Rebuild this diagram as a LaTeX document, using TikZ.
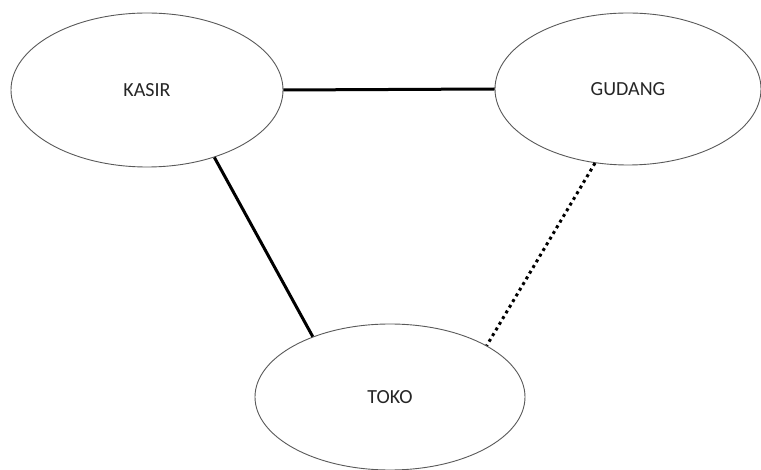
\documentclass[tikz,border=0pt]{standalone}
\usepackage{fontspec}
\setmainfont{Carlito}
\usetikzlibrary{shapes.geometric}
\tikzset{
  entity/.style={ellipse, draw=black!65, line width=0.9pt, fill=white,
    inner sep=0pt, font=\fontsize{20}{24}\selectfont, text=black!85},
  link/.style={line width=3pt, black},
  weaklink/.style={line width=3pt, black, dash pattern=on 3pt off 3.6pt}
}
\begin{document}
\begin{tikzpicture}[x=1pt, y=-1pt]
  \useasboundingbox (0,0) rectangle (761,470);
  \node[entity, minimum width=272pt, minimum height=154pt] (kasir) at (147,90) {KASIR};
  \node[entity, minimum width=266pt, minimum height=152pt] (gudang) at (628,89) {GUDANG};
  \node[entity, minimum width=270pt, minimum height=146pt] (toko) at (390,397) {TOKO};
  \draw[link] (kasir.east) -- (gudang.west);
  \draw[link] (kasir.-45) -- (toko.142);
  \draw[weaklink] (gudang.-114) -- (toko.28);
\end{tikzpicture}
\end{document}
